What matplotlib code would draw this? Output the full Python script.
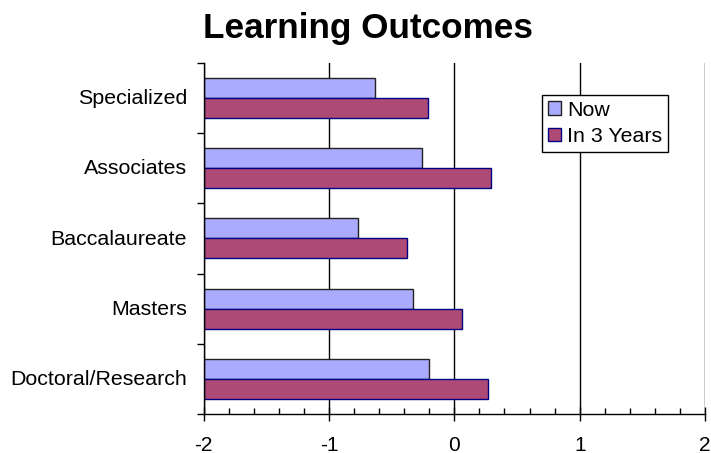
import numpy as np
import matplotlib.pyplot as plt
from matplotlib.ticker import MultipleLocator

plt.rcParams['font.family'] = ['Liberation Sans', 'DejaVu Sans']
plt.rcParams['axes.unicode_minus'] = False

# data (top to bottom)
categories = ["Specialized", "Associates", "Baccalaureate", "Masters", "Doctoral/Research"]
now = [-0.63, -0.26, -0.77, -0.33, -0.20]
in_3_years = [-0.21, 0.29, -0.38, 0.06, 0.27]

xmin, xmax = -2, 2

fig = plt.figure(figsize=(7.11, 4.53), dpi=100)
ax = fig.add_axes([0.2865, 0.0861, 0.7051, 0.775])

n = len(categories)
y = np.arange(n)[::-1]  # Specialized at the top
h = 0.285

# bars start at the axis minimum, like the original chart
ax.barh(y + h / 2, np.array(now) - xmin, left=xmin, height=h,
        color="#AAAAFF", edgecolor="#222222", linewidth=1, label="Now", zorder=3)
ax.barh(y - h / 2, np.array(in_3_years) - xmin, left=xmin, height=h,
        color="#AD4A76", edgecolor="#000080", linewidth=1, label="In 3 Years", zorder=3)

ax.set_xlim(xmin, xmax)
ax.set_ylim(-0.5, n - 0.5)

ax.xaxis.set_major_locator(MultipleLocator(1))
ax.xaxis.set_minor_locator(MultipleLocator(0.2))
ax.grid(axis="x", which="major", color="black", linewidth=1, zorder=0)

# category labels at the centres, ticks at the boundaries
ax.set_yticks(y + 0.02)
ax.set_yticklabels(categories, fontsize=15.4)
ax.set_yticks(np.arange(n + 1) - 0.5, minor=True)
ax.tick_params(axis="y", which="major", length=0, pad=12)
ax.tick_params(axis="y", which="minor", length=5, width=1, direction="out")
ax.tick_params(axis="x", which="major", length=10, width=1, direction="inout", labelsize=15, pad=10.5)
ax.tick_params(axis="x", which="minor", length=4, width=1, direction="in")

for s in ["top", "right"]:
    ax.spines[s].set_visible(False)
for s in ["left", "bottom"]:
    ax.spines[s].set_linewidth(1)
    ax.spines[s].set_zorder(4)

leg = ax.legend(loc="upper left", bbox_to_anchor=(0.675, 0.91), fontsize=15.4,
                frameon=True, fancybox=False, framealpha=1, edgecolor="black",
                handlelength=0.6, handleheight=0.6, handletextpad=0.3,
                borderpad=0.28, labelspacing=0.35, borderaxespad=0)
leg.get_frame().set_linewidth(1)

fig.text(0.517, 0.916, "Learning Outcomes", ha="center", va="baseline",
         fontsize=25.3, fontweight="bold")

fig.savefig("out.png", dpi=100)
